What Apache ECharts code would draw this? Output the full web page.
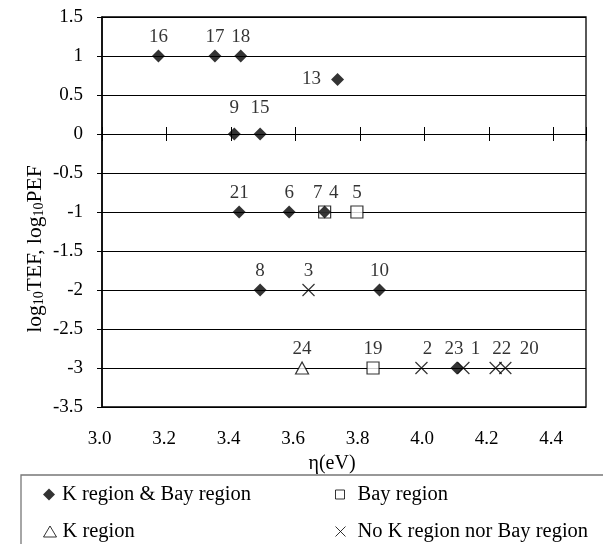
<!DOCTYPE html>
<html><head><meta charset="utf-8">
<script src="https://cdn.jsdelivr.net/npm/echarts@6/dist/echarts.min.js"></script>
<style>html,body{margin:0;padding:0;background:#fff}#c{width:603px;height:544px}</style>
</head><body><div id="c"></div>
<script>
const FONT = "'Liberation Serif','Times New Roman',serif";

// ---- data ----
const seriesNames = ['K region & Bay region', 'Bay region', 'K region', 'No K region nor Bay region'];

const kbIds = ['16', '17', '18', '13', '9', '15', '21', '6', '7', '8', '10', '23'];
const kbX   = [3.175, 3.35, 3.43, 3.73, 3.41, 3.49, 3.425, 3.58, 3.69, 3.49, 3.86, 4.10];
const kbY   = [1, 1, 1, 0.7, 0, 0, -1, -1, -1, -2, -2, -3];

const bayIds = ['4', '5', '19'];
const bayX   = [3.69, 3.79, 3.84];
const bayY   = [-1, -1, -3];

const kIds = ['24'];
const kX   = [3.62];
const kY   = [-3];

const noneIds = ['3', '2', '1', '22', '20'];
const noneX   = [3.64, 3.99, 4.12, 4.22, 4.25];
const noneY   = [-2, -3, -3, -3, -3];

const xMin = 3.0, xMax = 4.5, xStep = 0.2;
const yMin = -3.5, yMax = 1.5, yStep = 0.5;

// label placement tweaks (layout only)
const labelAdjust = {
  '13': { position: 'left', distance: 10 },
  '9':  { offset: [0, -7] },
  '15': { offset: [0, -7] },
  '7':  { offset: [-7, 0] },
  '4':  { offset: [9, 0] },
  '2':  { offset: [6, 0] },
  '23': { offset: [-3, 0] },
  '1':  { offset: [12, 0] },
  '22': { offset: [6, 0] },
  '20': { offset: [24, 0] }
};

function pts(ids, xs, ys) {
  return ids.map((id, i) => {
    const d = { name: id, value: [xs[i], ys[i]] };
    if (labelAdjust[id]) d.label = Object.assign({}, labelAdjust[id]);
    return d;
  });
}

const CROSS = 'path://M0,0L10,10M10,0L0,10';

const baseLabel = { show: true, position: 'top', distance: 3, formatter: '{b}',
  fontFamily: FONT, fontSize: 19, color: '#000' };

function scatter(name, data, symbol, size, itemStyle, z) {
  return { type: 'scatter', name, data, symbol, symbolSize: size, itemStyle,
    label: baseLabel, silent: true, z, emphasis: { disabled: true }, xAxisIndex: 0, yAxisIndex: 0 };
}

const legendText = { fontFamily: FONT, fontSize: 20.5, color: '#000' };

const option = {
  animation: false,
  backgroundColor: '#fff',
  grid: { left: 102, top: 17, right: 17, bottom: 137, show: true, borderColor: '#000', borderWidth: 1.3, backgroundColor: 'transparent' },
  xAxis: [
    { type: 'value', min: xMin, max: xMax, interval: xStep, position: 'bottom',
      axisLine: { show: false, onZero: false }, axisTick: { show: false }, splitLine: { show: false },
      axisLabel: { margin: 23, fontFamily: FONT, fontSize: 19, color: '#000', padding: [0, 5, 0, 0],
        formatter: v => (v > xMax - xStep / 2 ? '' : v.toFixed(1)) },
      name: 'η(eV)', nameLocation: 'middle', nameGap: 33,
      nameTextStyle: { fontFamily: FONT, fontSize: 20, color: '#000', padding: [0, 24, 0, 0] } },
    { type: 'value', min: xMin, max: xMax, interval: xStep, position: 'bottom',
      axisLine: { show: true, onZero: true, onZeroAxisIndex: 0, lineStyle: { color: '#000', width: 1 } },
      axisTick: { show: true, inside: false, length: 7, lineStyle: { color: '#000', width: 1 } },
      axisLabel: { show: false }, splitLine: { show: false } },
    { type: 'value', min: xMin, max: xMax, interval: xStep, position: 'top',
      axisLine: { show: true, onZero: true, onZeroAxisIndex: 0, lineStyle: { color: '#000', width: 1 } },
      axisTick: { show: true, inside: false, length: 7, lineStyle: { color: '#000', width: 1 } },
      axisLabel: { show: false }, splitLine: { show: false } }
  ],
  yAxis: {
    type: 'value', min: yMin, max: yMax, interval: yStep,
    axisLine: { show: true, lineStyle: { color: '#000', width: 1.5 } },
    axisTick: { show: true, length: 5, lineStyle: { color: '#000', width: 1 } },
    axisLabel: { margin: 19, fontFamily: FONT, fontSize: 19, color: '#000' },
    splitLine: { show: true, lineStyle: { color: '#000', width: 1 } }
  },
  legend: [
    { data: [{ name: seriesNames[0], icon: 'diamond' }], left: 43, top: 484, padding: 0,
      itemWidth: 12, itemHeight: 12, selectedMode: false,
      itemStyle: { color: '#000', borderWidth: 0 },
      textStyle: Object.assign({ padding: [0, 0, 0, 2] }, legendText) },
    { data: [{ name: seriesNames[1], icon: 'rect' }], left: 335, top: 484, padding: 0,
      itemWidth: 9, itemHeight: 9, selectedMode: false,
      itemStyle: { color: '#fff', borderColor: '#000', borderWidth: 1 },
      textStyle: Object.assign({ padding: [0, 0, 0, 8] }, legendText) },
    { data: [{ name: seriesNames[2], icon: 'triangle' }], left: 43, top: 521, padding: 0,
      itemWidth: 13, itemHeight: 11, selectedMode: false,
      itemStyle: { color: '#fff', borderColor: '#000', borderWidth: 1 },
      textStyle: Object.assign({ padding: [0, 0, 0, 1] }, legendText) },
    { data: [{ name: seriesNames[3], icon: CROSS }], left: 335, top: 521, padding: 0,
      itemWidth: 10, itemHeight: 10, selectedMode: false,
      itemStyle: { color: '#000', borderColor: '#000', borderWidth: 1 },
      textStyle: Object.assign({ padding: [0, 0, 0, 7] }, legendText) }
  ],
  graphic: [
    { type: 'rect', shape: { x: 21, y: 475, width: 700, height: 200 }, z: -1, silent: true,
      style: { fill: 'none', stroke: '#777', lineWidth: 1.3 } },
    { type: 'text', x: 34, y: 249, rotation: Math.PI / 2, silent: true,
      style: { text: '{a|log}{b|10}{a|TEF, log}{b|10}{a|PEF}', align: 'center', verticalAlign: 'middle',
        rich: { a: { fontFamily: FONT, fontSize: 21.5, color: '#000', verticalAlign: 'bottom', lineHeight: 24 },
                b: { fontFamily: FONT, fontSize: 14, color: '#000', verticalAlign: 'bottom', lineHeight: 17 } } } }
  ],
  series: [
    scatter(seriesNames[1], pts(bayIds, bayX, bayY), 'rect', 12, { color: '#fff', borderColor: '#000', borderWidth: 1.2 }, 2),
    scatter(seriesNames[2], pts(kIds, kX, kY), 'triangle', [13, 12], { color: '#fff', borderColor: '#000', borderWidth: 1.2 }, 2),
    scatter(seriesNames[3], pts(noneIds, noneX, noneY), CROSS, 12, { color: '#000', borderColor: '#000', borderWidth: 1.2 }, 3),
    scatter(seriesNames[0], pts(kbIds, kbX, kbY), 'diamond', 13, { color: '#000' }, 4)
  ]
};

const chart = echarts.init(document.getElementById('c'), null, { renderer: 'canvas' });
chart.setOption(option);
</script>
</body></html>
